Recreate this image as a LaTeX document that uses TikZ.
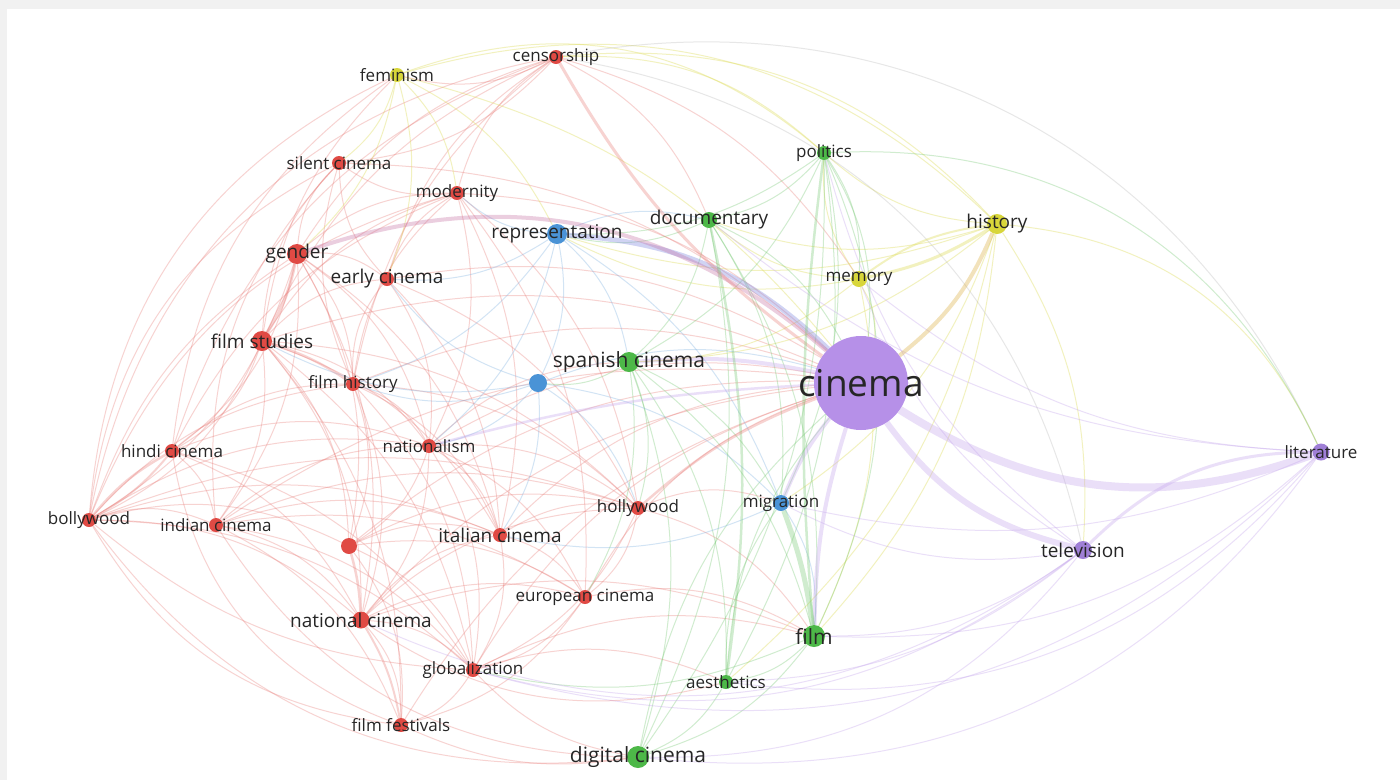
\documentclass[tikz,border=0pt]{standalone}
\usepackage{fontspec}
\setmainfont{Open Sans}
\usetikzlibrary{backgrounds}

\definecolor{kred}{HTML}{E04A44}
\definecolor{kgreen}{HTML}{4DB848}
\definecolor{kblue}{HTML}{4A93D6}
\definecolor{kyellow}{HTML}{D8D63A}
\definecolor{kpurple}{HTML}{B690E8}
\definecolor{kviolet}{HTML}{9F7FD6}
\definecolor{frame}{HTML}{F1F1F1}

\pgfdeclarelayer{edges}
\pgfsetlayers{background,edges,main}

\begin{document}
\begin{tikzpicture}[x=1pt,y=-1pt,
    kw/.style = {circle, inner sep=0pt, minimum size=14pt},
    big/.style = {minimum size=20pt},
    lbl/.style = {font=\fontsize{17}{17}\selectfont, text=black!85},
    lblm/.style = {font=\fontsize{19}{19}\selectfont, text=black!85},
    lbll/.style = {font=\fontsize{21}{21}\selectfont, text=black!85},
    ered/.style = {draw=kred!75, opacity=0.32, line width=1pt},
    egreen/.style = {draw=kgreen!75, opacity=0.35, line width=1pt},
    eblue/.style = {draw=kblue!70, opacity=0.35, line width=1pt},
    eyellow/.style = {draw=kyellow!80, opacity=0.4, line width=1pt},
    epurple/.style = {draw=kpurple!80, opacity=0.35, line width=1pt},
    egray/.style = {draw=black!30, opacity=0.3, line width=1pt}]

    \useasboundingbox (0,0) rectangle (1400,780);
    \begin{pgfonlayer}{background}
    \fill[frame] (0,0) rectangle (1400,780);
    \fill[white] (7,9) rectangle (1400,780);
    \end{pgfonlayer}

    % Cluster 1 (red)
    \node[kw, fill=kred] (cen) at (556,57) [label={[lbl]center:censorship}] {};
    \node[kw, fill=kred] (sil) at (339,163) [label={[lbl]center:silent cinema}] {};
    \node[kw, fill=kred] (mod) at (457,193) [label={[lbl]center:modernity}] {};
    \node[kw, big, fill=kred] (gen) at (297,254) [label={[lblm]center:gender}] {};
    \node[kw, fill=kred] (ear) at (387,279) [label={[lblm]center:early cinema}] {};
    \node[kw, big, fill=kred] (fst) at (262,341) [label={[lblm]center:film studies}] {};
    \node[kw, fill=kred] (fhi) at (353,384) [label={[lbl]center:film history}] {};
    \node[kw, fill=kred] (hin) at (172,451) [label={[lbl]center:hindi cinema}] {};
    \node[kw, fill=kred] (nat) at (429,446) [label={[lbl]center:nationalism}] {};
    \node[kw, fill=kred] (bol) at (89,520) [label={[lbl]center:bollywood}] {};
    \node[kw, fill=kred] (ind) at (216,525) [label={[lbl]center:indian cinema}] {};
    \node[kw, fill=kred] (hol) at (638,508) [label={[lbl]center:hollywood}] {};
    \node[kw, fill=kred] (ita) at (500,535) [label={[lblm]center:italian cinema}] {};
    \node[kw, minimum size=16pt, fill=kred] (unk) at (349,546) {};
    \node[kw, fill=kred] (eur) at (585,597) [label={[lbl]center:european cinema}] {};
    \node[kw, minimum size=17pt, fill=kred] (nac) at (361,620) [label={[lblm]center:national cinema}] {};
    \node[kw, fill=kred] (glo) at (473,670) [label={[lbl]center:globalization}] {};
    \node[kw, fill=kred] (ffe) at (401,725) [label={[lbl]center:film festivals}] {};

    % Cluster 2 (green)
    \node[kw, fill=kgreen] (pol) at (824,153) [label={[lbl]center:politics}] {};
    \node[kw, minimum size=16pt, fill=kgreen] (doc) at (709,220) [label={[lblm]center:documentary}] {};
    \node[kw, big, fill=kgreen] (spa) at (629,362) [label={[lbll]center:spanish cinema}] {};
    \node[kw, minimum size=22pt, fill=kgreen] (fil) at (814,636) [label={[lbll]center:film}] {};
    \node[kw, fill=kgreen] (aes) at (726,682) [label={[lbl]center:aesthetics}] {};
    \node[kw, minimum size=22pt, fill=kgreen] (dig) at (638,757) [label={[lbll]center:digital cinema}] {};

    % Cluster 3 (blue)
    \node[kw, big, fill=kblue] (rep) at (557,234) [label={[lblm]center:representation}] {};
    \node[kw, minimum size=18pt, fill=kblue] (blu) at (538,383) {};
    \node[kw, minimum size=16pt, fill=kblue] (mig) at (781,503) [label={[lbl]center:migration}] {};

    % Cluster 4 (yellow)
    \node[kw, fill=kyellow] (fem) at (397,75) [label={[lbl]center:feminism}] {};
    \node[kw, big, fill=kyellow] (his) at (997,224) [label={[lblm]center:history}] {};
    \node[kw, minimum size=16pt, fill=kyellow] (mem) at (859,279) [label={[lbl]center:memory}] {};

    % Cluster 5 (purple)
    \node[kw, minimum size=94pt, fill=kpurple] (cin) at (861,383) [label={[font=\fontsize{37}{37}\selectfont, text=black!85]center:cinema}] {};
    \node[kw, minimum size=17pt, fill=kviolet] (lit) at (1321,452) [label={[lbl]center:literature}] {};
    \node[kw, minimum size=18pt, fill=kviolet] (tel) at (1083,550) [label={[lblm]center:television}] {};

    % Conexiones
    \begin{pgfonlayer}{edges}
    \foreach \a/\b in {gen/sil, gen/ear, gen/mod, gen/cen, gen/hin, gen/fhi,
        gen/nac, gen/ind, gen/bol, gen/unk, gen/nat, gen/ita,
        fst/sil, fst/hin, fst/bol, fst/ind, fst/nat, fst/ear, fst/mod, fst/cen,
        fst/nac, fst/unk, fst/glo, fst/ffe, fst/hol, fst/ita,
        hin/ind, hin/fhi, hin/nat, hin/nac, hin/glo, hin/mod,
        bol/ind, bol/nac, bol/glo, bol/unk, bol/hol, bol/nat, bol/fhi, bol/ita,
        ind/nac, ind/glo, ind/ffe, ind/nat, ind/ita, ind/hol, ind/eur,
        fhi/ear, fhi/sil, fhi/mod, fhi/nat, fhi/unk, fhi/nac, fhi/ita, fhi/hol, fhi/cen, fhi/glo,
        ear/sil, ear/mod, ear/cen, ear/nat, ear/ita, ear/hol,
        mod/sil, mod/cen, mod/nat, mod/ita, mod/hol, mod/eur,
        nat/nac, nat/ita, nat/hol, nat/eur, nat/glo, nat/spa, nat/unk,
        unk/ffe, unk/ita, unk/glo, unk/hol, unk/eur,
        nac/glo, nac/ffe, nac/ita, nac/eur, nac/hol, nac/fil,
        ita/eur, ita/hol, ita/glo, ita/cin,
        hol/eur, hol/glo, hol/mig, hol/fil,
        eur/glo, eur/ffe, eur/cin, eur/fil,
        glo/ffe, glo/cin, glo/fil, glo/aes, ffe/cin,
        cen/fem, cen/sil, cen/doc, cen/mem, nac/cin, nat/cin,
        fst/cin, ear/cin, mod/cin, fhi/cin, unk/cin, ind/cin, sil/cin}
      \draw[ered] (\a) to[bend left=20] (\b);
    \foreach \a/\b in {fem/sil, fem/gen, fem/mod, fem/ear, fem/rep, fem/cin,
        his/pol, his/fil, his/doc, his/tel, his/spa, his/rep, his/mig, his/aes,
        mem/pol, mem/cin, mem/doc, mem/fil, mem/spa, mem/rep}
      \draw[eyellow] (\a) to[bend left=18] (\b);
    \foreach \a/\b in {pol/doc, pol/mem, pol/spa, pol/cin, pol/aes, pol/dig, pol/rep, pol/mig,
        doc/spa, doc/fil, doc/rep, doc/cin, doc/dig, doc/mig,
        spa/fil, spa/aes, spa/dig, spa/mig, spa/blu, spa/hol, spa/eur,
        fil/aes, fil/dig, aes/dig, aes/mig, aes/cin, dig/cin, fil/glo}
      \draw[egreen] (\a) to[bend left=18] (\b);
    \foreach \a/\b in {rep/blu, rep/spa, rep/mig, rep/ear, rep/fhi, rep/nat, rep/mod, rep/doc,
        blu/mig, blu/fhi, blu/nat, blu/ear, blu/cin, blu/ita, blu/fst, blu/hol, mig/fil, mig/ita}
      \draw[eblue] (\a) to[bend left=18] (\b);
    \foreach \a/\b in {tel/pol, tel/aes, tel/mig, tel/fil, tel/mem, lit/mem, lit/doc}
      \draw[epurple] (\a) to[bend left=18] (\b);

    % outer arcs
    \foreach \a/\b/\c in {bol/fem/30, bol/cen/34, bol/sil/28, hin/fem/24, hin/cen/26, bol/gen/18,
        ind/sil/24, fst/fem/18, bol/mod/26}
      \draw[ered] (\a) to[bend left=\c] (\b);
    \foreach \a/\b/\c in {fem/pol/30, fem/his/30, cen/his/26, cen/pol/22}
      \draw[eyellow] (\a) to[bend left=\c] (\b);
    \draw[egray] (cen) to[bend left=38] (lit);
    \draw[egray] (cen) to[bend left=34] (tel);
    \draw[eyellow] (his) to[bend left=30] (lit);
    \draw[egreen] (pol) to[bend left=34] (lit);
    \draw[egreen] (pol) to[bend left=24] (fil);
    \foreach \a/\b/\c in {lit/dig/30, lit/aes/28, lit/fil/22, lit/glo/30, tel/dig/26, tel/glo/26,
        tel/nac/30, lit/mig/18}
      \draw[epurple] (\a) to[bend left=\c] (\b);
    \foreach \a/\b/\c in {dig/bol/30, ffe/bol/26, dig/ind/28, glo/bol/18, ffe/hin/30, dig/ffe/16,
        aes/nac/24, dig/glo/18}
      \draw[ered] (\a) to[bend left=\c] (\b);

    % strong links
    \draw[epurple, line width=8pt] (cin) to[bend right=26] (lit);
    \draw[epurple, line width=6pt] (cin) to[bend right=20] (tel);
    \draw[epurple, line width=3pt] (tel) to[bend left=22] (lit);
    \draw[draw=kblue!40!kpurple, opacity=0.4, line width=5pt] (rep) to[bend left=20] (cin);
    \draw[epurple, line width=4pt] (spa) to[bend left=8] (cin);
    \draw[draw=kred!40!kpurple, opacity=0.35, line width=4pt] (gen) to[bend left=30] (cin);
    \draw[ered, line width=3pt] (cen) to[bend right=12] (cin);
    \draw[draw=kyellow!70!kred, opacity=0.35, line width=4pt] (his) to[bend left=14] (cin);
    \draw[eyellow, line width=3pt] (his) to[bend left=10] (mem);
    \draw[eyellow, line width=2pt] (his) to[bend right=14] (mem);
    \draw[epurple, line width=4pt] (cin) to[bend right=8] (fil);
    \draw[epurple, line width=4pt] (cin) to[bend right=8] (mig);
    \draw[egreen, line width=5pt] (mig) to[bend left=6] (fil);
    \draw[egreen, line width=2.5pt] (pol) to[bend right=6] (fil);
    \draw[egreen, line width=2.5pt] (doc) to[bend left=10] (aes);
    \draw[ered, line width=3pt] (gen) to[bend left=10] (fst);
    \draw[ered, line width=2.5pt] (bol) to[bend left=10] (hin);
    \draw[ered, line width=2pt] (bol) to[bend right=10] (hin);
    \draw[ered, line width=2.5pt] (unk) to[bend left=6] (nac);
    \draw[ered, line width=2.5pt] (fst) to[bend left=8] (fhi);
    \draw[ered, line width=2.5pt] (hol) to[bend left=10] (cin);
    \draw[ered, line width=2pt] (ffe) to[bend right=10] (nac);
    \draw[epurple, line width=2.5pt] (nat) to[bend left=6] (cin);
    \end{pgfonlayer}
\end{tikzpicture}
\end{document}
